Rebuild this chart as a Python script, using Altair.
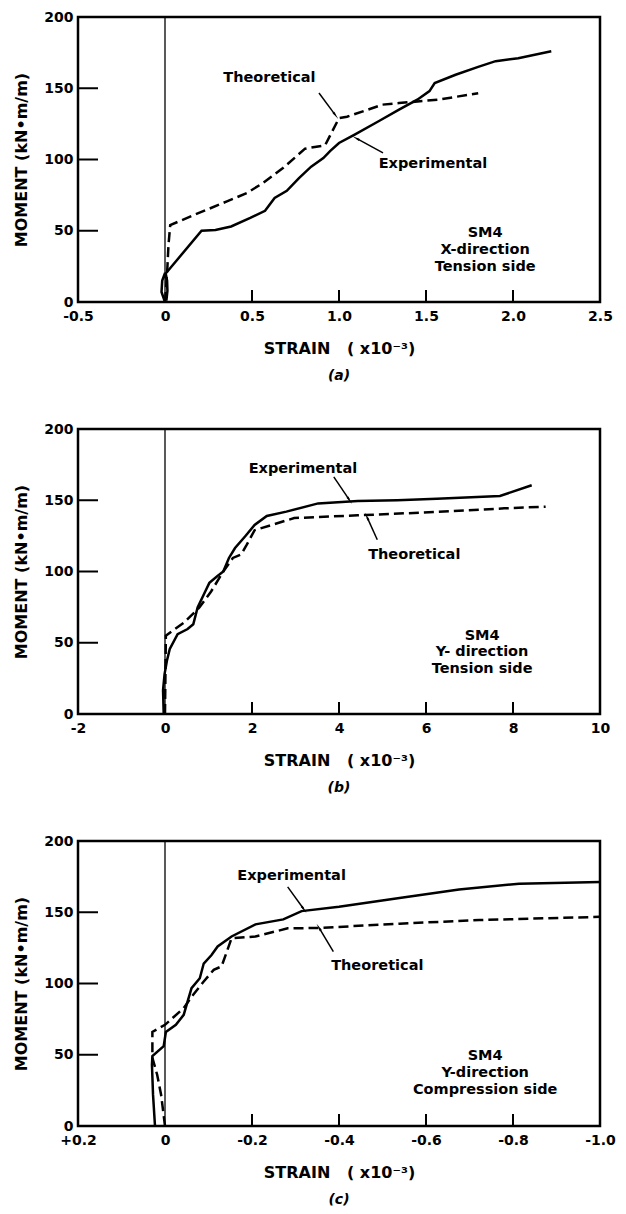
import math
import altair as alt
import pandas as pd

FONT = "DejaVu Sans"
W, H = 522, 285

# ---------------- Panel (a): X-direction, tension side ----------------
A_EXP_X = [0.0, -0.02, -0.016, -0.004, 0.01, 0.014, 0.008, 0.014, 0.012, 0.004, 0.21, 0.29, 0.38, 0.49,
           0.575, 0.63, 0.70, 0.77, 0.84, 0.91, 0.95, 1.0, 1.09, 1.23, 1.345, 1.45, 1.52, 1.55,
           1.67, 1.8, 1.9, 2.03, 2.22]
A_EXP_Y = [0, 7, 15, 19, 16, 8, 1, 8, 15, 20, 50, 50.5, 53, 59,
           64, 73, 78, 87, 95, 101, 106, 111.6, 117.5, 127, 135, 142, 148, 153.7,
           159.5, 165, 169, 171, 176]
A_THE_X = [0.0, 0.006, 0.012, 0.02, 0.03, 0.195, 0.356, 0.471, 0.563, 0.678, 0.805, 0.92, 1.0,
           1.046, 1.25, 1.345, 1.57, 1.8]
A_THE_Y = [0, 10, 20, 40, 54, 62.5, 70.6, 76.5, 83.5, 94, 107.6, 110, 129,
           130, 138.5, 139.6, 142, 146.5]
A_XDOMAIN = [-0.5, 2.5]
A_XLABELS = [-0.5, 0, 0.5, 1.0, 1.5, 2.0, 2.5]
A_XTICKS = [0.5, 1.0, 1.5, 2.0]
A_NOTE_TEXT = ["Theoretical", "Experimental", "SM4", "X-direction", "Tension side"]
A_NOTE_X = [0.6, 1.54, 1.84, 1.84, 1.84]
A_NOTE_Y = [157, 97, 48.5, 36.5, 24.5]
A_ARROW_X1 = [0.885, 1.253]
A_ARROW_Y1 = [146.7, 104.6]
A_ARROW_X2 = [0.977, 1.103]
A_ARROW_Y2 = [131.5, 114.6]

# ---------------- Panel (b): Y-direction, tension side ----------------
B_EXP_X = [-0.03, -0.045, -0.01, 0.045, 0.11, 0.29, 0.52, 0.65, 0.75, 0.93, 1.02, 1.2, 1.34,
           1.47, 1.61, 1.84, 2.06, 2.34, 2.79, 3.52, 4.43, 5.34, 6.25, 7.7, 8.43]
B_EXP_Y = [0, 16.7, 28, 37.6, 45.7, 56, 59.6, 63, 74.7, 86.3, 92, 96.7, 100,
           109.5, 116.5, 124.6, 132.7, 139, 142, 147.8, 149.4, 150, 151, 153, 160.5]
B_THE_X = [0.0, 0.02, 0.43, 0.79, 1.06, 1.34, 1.56, 1.75, 1.88, 2.06, 2.97, 4.43, 6.25, 7.8, 8.75]
B_THE_Y = [0, 55, 64, 74.7, 86, 100, 109.5, 112, 118.8, 129, 137.5, 139.4, 141.8, 144.3, 145.5]
B_XDOMAIN = [-2, 10]
B_XLABELS = [-2, 0, 2, 4, 6, 8, 10]
B_XTICKS = [2, 4, 6, 8]
B_NOTE_TEXT = ["Experimental", "Theoretical", "SM4", "Y- direction", "Tension side"]
B_NOTE_X = [3.17, 5.73, 7.29, 7.29, 7.29]
B_NOTE_Y = [172, 111.8, 55, 43.4, 31.8]
B_ARROW_X1 = [3.88, 4.88]
B_ARROW_Y1 = [166.4, 122.3]
B_ARROW_X2 = [4.23, 4.65]
B_ARROW_Y2 = [150.6, 137.8]

# ---------------- Panel (c): Y-direction, compression side ----------------
C_EXP_X = [0.023, 0.0275, 0.03, 0.029, 0.003, -0.002, -0.025, -0.043, -0.052, -0.061, -0.08,
           -0.089, -0.107, -0.121, -0.153, -0.208, -0.272, -0.314, -0.4, -0.539, -0.676,
           -0.814, -1.0]
C_EXP_Y = [0, 22, 43, 49, 56, 66, 71, 78, 87.4, 96.7, 103.7,
           114, 120, 126, 133, 141.5, 145, 150.8, 153.8, 160, 166,
           170, 171.3]
C_THE_X = [0.0, 0.009, 0.018, 0.029, 0.029, 0.0, -0.043, -0.062, -0.089, -0.112, -0.13,
           -0.153, -0.208, -0.282, -0.356, -0.539, -0.722, -1.0]
C_THE_Y = [0, 22, 36, 47.8, 66, 71, 82.7, 91, 101.4, 109.6, 112,
           131.7, 133, 138.7, 139, 142, 144.5, 146.8]
C_XDOMAIN = [-1.0, 0.2]
C_XLABELS = [0.2, 0, -0.2, -0.4, -0.6, -0.8, -1.0]
C_XTICKS = [-0.2, -0.4, -0.6, -0.8]
C_NOTE_TEXT = ["Experimental", "Theoretical", "SM4", "Y-direction", "Compression side"]
C_NOTE_X = [-0.291, -0.488, -0.736, -0.736, -0.736]
C_NOTE_Y = [175.3, 112.4, 49, 37.3, 25.6]
C_ARROW_X1 = [-0.282, -0.387]
C_ARROW_Y1 = [167.8, 122.4]
C_ARROW_X2 = [-0.318, -0.355]
C_ARROW_Y2 = [152.6, 138.7]

Y_VALUES = [0, 50, 100, 150, 200]
Y_TICKS = [50, 100, 150]
Y_TITLE = "MOMENT (kN\u2022m/m)"
X_TITLE = "STRAIN\u00a0\u00a0\u00a0( x10\u207b\u00b3)"


def panel(exp_x, exp_y, the_x, the_y, xdom, reverse, xlabels, xticks, label_expr,
          note_t, note_x, note_y, ax1, ay1, ax2, ay2, caption):
    xscale = alt.Scale(domain=xdom, reverse=reverse, nice=False, zero=False)
    yscale = alt.Scale(domain=[0, 200], nice=False, zero=True)
    xaxis = alt.Axis(values=xlabels, labelExpr=label_expr, ticks=False, domain=False, grid=False,
                     labelFont=FONT, labelFontSize=14, labelFontWeight="bold", labelColor="black",
                     labelPadding=7, labelFlush=False, labelOverlap=False,
                     title=X_TITLE, titleFont=FONT, titleFontSize=16, titleFontWeight="bold",
                     titleColor="black", titlePadding=17)
    yaxis = alt.Axis(values=Y_VALUES, ticks=False, domain=False, grid=False,
                     labelFont=FONT, labelFontSize=14, labelFontWeight="bold", labelColor="black",
                     labelPadding=5, labelFlush=False, labelOverlap=False,
                     title=Y_TITLE, titleFont=FONT, titleFontSize=16, titleFontWeight="bold",
                     titleColor="black", titlePadding=14)

    def X(f):
        return alt.X(f, type="quantitative", scale=xscale, axis=xaxis)

    def Y(f):
        return alt.Y(f, type="quantitative", scale=yscale, axis=yaxis)

    exp_df = pd.DataFrame({"x": exp_x, "y": exp_y, "i": range(len(exp_x))})
    the_df = pd.DataFrame({"x": the_x, "y": the_y, "i": range(len(the_x))})
    note_df = pd.DataFrame({"x": note_x, "y": note_y, "t": note_t})

    sx = W / (xdom[1] - xdom[0]) * (-1 if reverse else 1)
    sy = H / 200.0
    angs = []
    for x1, y1, x2, y2 in zip(ax1, ay1, ax2, ay2):
        dxp = (x2 - x1) * sx
        dyp = -(y2 - y1) * sy
        angs.append(math.degrees(math.atan2(dxp, -dyp)) % 360)
    arr_df = pd.DataFrame({"x": ax1, "y": ay1, "x2": ax2, "y2": ay2, "ang": angs})

    zero = alt.Chart(pd.DataFrame({"x": [0]})).mark_rule(color="black", strokeWidth=1.3).encode(x=X("x"))
    ytk = alt.Chart(pd.DataFrame({"y": Y_TICKS})).mark_rule(color="black", strokeWidth=2).encode(
        y=Y("y"), x=alt.value(0), x2=alt.value(20))
    xtk = alt.Chart(pd.DataFrame({"x": xticks})).mark_rule(color="black", strokeWidth=2).encode(
        x=X("x"), y=alt.value(H), y2=alt.value(H - 12))
    the = alt.Chart(the_df).mark_line(color="black", strokeWidth=2.5, strokeDash=[10, 5]).encode(
        x=X("x"), y=Y("y"), order="i:Q")
    exp = alt.Chart(exp_df).mark_line(color="black", strokeWidth=2.5).encode(
        x=X("x"), y=Y("y"), order="i:Q")
    notes = alt.Chart(note_df).mark_text(font=FONT, fontSize=14.5, fontWeight="bold", color="black",
                                         align="center", baseline="middle").encode(
        x=X("x"), y=Y("y"), text="t:N")
    shafts = alt.Chart(arr_df).mark_rule(color="black", strokeWidth=1.5).encode(
        x=X("x"), y=Y("y"), x2="x2", y2="y2")
    heads = alt.Chart(arr_df).mark_point(shape="wedge", filled=True, color="black", opacity=1,
                                         size=90).encode(
        x=X("x2"), y=Y("y2"), angle=alt.Angle("ang:Q", scale=None))
    return alt.layer(zero, ytk, xtk, the, exp, notes, shafts, heads).properties(
        width=W, height=H,
        title=alt.Title(caption, orient="bottom", anchor="middle", font=FONT, fontSize=14,
                        fontStyle="italic", fontWeight="bold", color="black", offset=13))


pa = panel(A_EXP_X, A_EXP_Y, A_THE_X, A_THE_Y, A_XDOMAIN, False, A_XLABELS, A_XTICKS,
           "datum.value == 0 ? '0' : (datum.value < 0 ? '-' : '') + format(abs(datum.value), '.1f')",
           A_NOTE_TEXT, A_NOTE_X, A_NOTE_Y, A_ARROW_X1, A_ARROW_Y1, A_ARROW_X2, A_ARROW_Y2, "(a)")
pb = panel(B_EXP_X, B_EXP_Y, B_THE_X, B_THE_Y, B_XDOMAIN, False, B_XLABELS, B_XTICKS,
           "datum.value == 0 ? '0' : (datum.value < 0 ? '-' : '') + format(abs(datum.value), 'd')",
           B_NOTE_TEXT, B_NOTE_X, B_NOTE_Y, B_ARROW_X1, B_ARROW_Y1, B_ARROW_X2, B_ARROW_Y2, "(b)")
pc = panel(C_EXP_X, C_EXP_Y, C_THE_X, C_THE_Y, C_XDOMAIN, True, C_XLABELS, C_XTICKS,
           "datum.value == 0 ? '0' : (datum.value > 0 ? '+' : '-') + format(abs(datum.value), '.1f')",
           C_NOTE_TEXT, C_NOTE_X, C_NOTE_Y, C_ARROW_X1, C_ARROW_Y1, C_ARROW_X2, C_ARROW_Y2, "(c)")

chart = alt.vconcat(pa, pb, pc, spacing=35).properties(
    padding={"left": 4, "top": 0, "right": 0, "bottom": 0},
    background="white",
).configure_view(stroke="black", strokeWidth=2.5)

chart.save("out.html", embed_options={"renderer": "svg", "actions": False})
